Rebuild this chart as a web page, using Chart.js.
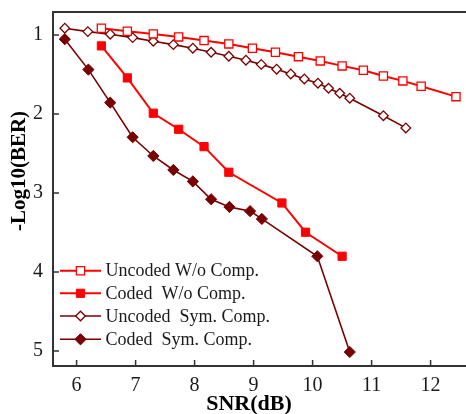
<!DOCTYPE html>
<html>
<head>
<meta charset="utf-8">
<script src="https://cdn.jsdelivr.net/npm/chart.js@4/dist/chart.umd.min.js"></script>
<style>
html,body{margin:0;padding:0;background:#fff;}
#wrap{width:466px;height:414px;position:relative;}
</style>
</head>
<body>
<div id="wrap"><canvas id="c" width="466" height="414"></canvas></div>
<script>
const xTicks = [6, 7, 8, 9, 10, 11, 12];
const yTicks = [1, 2, 3, 4, 5];
const xTitle = 'SNR(dB)';
const yTitle = '-Log10(BER)';

const seriesNames = ['Uncoded W/o Comp.', 'Coded  W/o Comp.', 'Uncoded  Sym. Comp.', 'Coded  Sym. Comp.'];

const uncodedWoX = [6.42, 6.86, 7.30, 7.73, 8.16, 8.58, 8.98, 9.37, 9.76, 10.13, 10.50, 10.86, 11.20, 11.53, 11.84, 12.43];
const uncodedWoY = [0.915, 0.953, 0.987, 1.025, 1.072, 1.114, 1.168, 1.219, 1.275, 1.329, 1.392, 1.447, 1.519, 1.582, 1.649, 1.781];

const codedWoX = [6.42, 6.86, 7.30, 7.73, 8.16, 8.58, 9.48, 9.88, 10.50];
const codedWoY = [1.139, 1.544, 1.991, 2.194, 2.414, 2.738, 3.127, 3.497, 3.801];

const uncodedSymX = [5.80, 6.19, 6.57, 6.95, 7.30, 7.64, 7.97, 8.28, 8.58, 8.87, 9.13, 9.39, 9.63, 9.86, 10.09, 10.27, 10.46, 10.63, 11.20, 11.58];
const uncodedSymY = [0.915, 0.958, 0.991, 1.034, 1.080, 1.123, 1.168, 1.219, 1.270, 1.320, 1.373, 1.434, 1.494, 1.557, 1.611, 1.675, 1.738, 1.801, 2.022, 2.177];

const codedSymX = [5.80, 6.20, 6.57, 6.95, 7.30, 7.64, 7.97, 8.28, 8.59, 8.94, 9.14, 10.08, 10.63];
const codedSymY = [1.054, 1.439, 1.857, 2.295, 2.532, 2.709, 2.854, 3.080, 3.177, 3.230, 3.329, 3.801, 5.013];

const RED = '#ff0000';
const DARK = '#7a0000';
const SERIF = '"Liberation Serif", "Times New Roman", serif';

function pts(xs, ys) { return xs.map((x, i) => ({ x: x, y: ys[i] })); }

const datasets = [
  { label: seriesNames[0], data: pts(uncodedWoX, uncodedWoY), borderColor: RED, borderWidth: 2,
    pointStyle: 'rect', pointRadius: 5.8, pointBackgroundColor: '#ffffff', pointBorderColor: RED, pointBorderWidth: 1.3 },
  { label: seriesNames[1], data: pts(codedWoX, codedWoY), borderColor: RED, borderWidth: 2,
    pointStyle: 'rect', pointRadius: 5.8, pointBackgroundColor: RED, pointBorderColor: RED, pointBorderWidth: 1 },
  { label: seriesNames[2], data: pts(uncodedSymX, uncodedSymY), borderColor: DARK, borderWidth: 1.6,
    pointStyle: 'rectRot', pointRadius: 4.8, pointBackgroundColor: '#ffffff', pointBorderColor: DARK, pointBorderWidth: 1.3 },
  { label: seriesNames[3], data: pts(codedSymX, codedSymY), borderColor: DARK, borderWidth: 1.6,
    pointStyle: 'rectRot', pointRadius: 5.6, pointBackgroundColor: DARK, pointBorderColor: DARK, pointBorderWidth: 1 }
];
datasets.forEach(d => { d.fill = false; d.tension = 0; d.clip = false; });

const framePlugin = {
  id: 'frame',
  afterDraw(chart) {
    const ctx = chart.ctx;
    const a = chart.chartArea;
    const xs = chart.scales.x, ys = chart.scales.y;
    ctx.save();
    ctx.strokeStyle = '#333333';
    ctx.lineWidth = 2;
    ctx.beginPath();
    ctx.moveTo(a.right + 2, a.top); ctx.lineTo(a.left, a.top);
    ctx.lineTo(a.left, a.bottom); ctx.lineTo(a.right + 2, a.bottom);
    ctx.stroke();
    ctx.lineWidth = 1.5;
    ctx.beginPath();
    xTicks.forEach(v => { const p = xs.getPixelForValue(v); ctx.moveTo(p, a.bottom); ctx.lineTo(p, a.bottom - 6); });
    yTicks.forEach(v => { const p = ys.getPixelForValue(v); ctx.moveTo(a.left, p); ctx.lineTo(a.left + 6, p); });
    ctx.stroke();

    // axis titles
    ctx.fillStyle = '#000000';
    ctx.font = 'bold 22px ' + SERIF;
    ctx.textAlign = 'center';
    ctx.textBaseline = 'middle';
    ctx.fillText(xTitle, 249, 404);
    ctx.save();
    ctx.translate(20, 171);
    ctx.rotate(-Math.PI / 2);
    ctx.font = 'bold 21px ' + SERIF;
    ctx.fillText(yTitle, 0, 0);
    ctx.restore();

    // legend
    const rows = [270.7, 293.3, 316, 339.3];
    ctx.font = '18px ' + SERIF;
    ctx.textAlign = 'left';
    ctx.textBaseline = 'middle';
    chart.data.datasets.forEach((d, i) => {
      const y = rows[i];
      ctx.strokeStyle = d.borderColor;
      ctx.lineWidth = d.borderWidth;
      ctx.beginPath(); ctx.moveTo(60, y); ctx.lineTo(101, y); ctx.stroke();
      ctx.fillStyle = d.pointBackgroundColor;
      ctx.strokeStyle = d.pointBorderColor;
      ctx.lineWidth = d.pointBorderWidth;
      ctx.beginPath();
      if (d.pointStyle === 'rect') {
        const s = Math.SQRT1_2 * d.pointRadius;
        ctx.rect(80.5 - s, y - s, 2 * s, 2 * s);
      } else {
        const r = d.pointRadius;
        ctx.moveTo(80.5 - r, y); ctx.lineTo(80.5, y - r); ctx.lineTo(80.5 + r, y); ctx.lineTo(80.5, y + r); ctx.closePath();
      }
      ctx.fill(); ctx.stroke();
      ctx.fillStyle = '#1a1a1a';
      ctx.fillText(d.label, 105.5, y + 1);
    });
    ctx.restore();
  }
};

new Chart(document.getElementById('c'), {
  type: 'line',
  data: { datasets: datasets },
  options: {
    responsive: false,
    animation: false,
    events: [],
    layout: { autoPadding: false, padding: { top: 12, left: 0, right: 0, bottom: 0 } },
    plugins: { legend: { display: false }, tooltip: { enabled: false }, title: { display: false } },
    scales: {
      x: {
        type: 'linear', min: 5.6, max: 12.6,
        afterBuildTicks: s => { s.ticks = xTicks.map(v => ({ value: v })); },
        afterFit: s => { s.height = 48; s.paddingLeft = 0; s.paddingRight = 0; },
        grid: { display: false, drawTicks: false },
        border: { display: false },
        ticks: { font: { family: SERIF, size: 20 }, color: '#1a1a1a', padding: 8, maxRotation: 0, autoSkip: false }
      },
      y: {
        type: 'linear', reverse: true, min: 0.71, max: 5.19,
        afterBuildTicks: s => { s.ticks = yTicks.map(v => ({ value: v })); },
        afterFit: s => { s.width = 53; s.paddingTop = 0; s.paddingBottom = 0; },
        grid: { display: false, drawTicks: false },
        border: { display: false },
        ticks: { font: { family: SERIF, size: 20 }, color: '#1a1a1a', padding: 10, autoSkip: false }
      }
    }
  },
  plugins: [framePlugin]
});
</script>
</body>
</html>
